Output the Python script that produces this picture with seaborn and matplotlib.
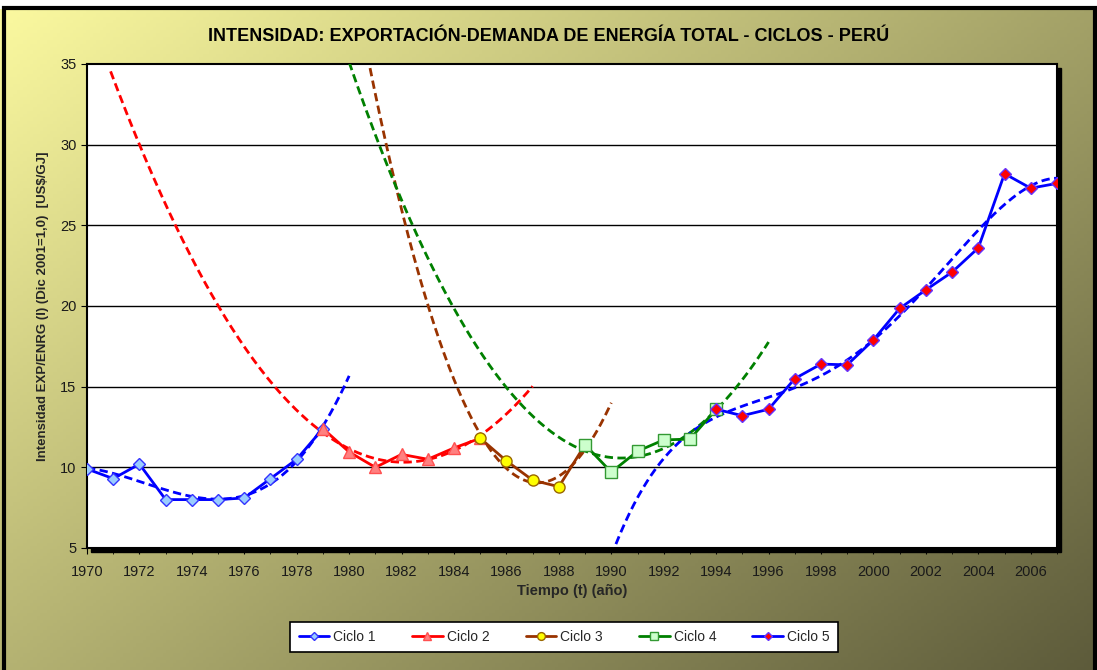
import numpy as np
import pandas as pd
import matplotlib
matplotlib.use("Agg")
import matplotlib.pyplot as plt
import seaborn as sns
from matplotlib.patches import Rectangle

# datos
anios1 = [1970, 1971, 1972, 1973, 1974, 1975, 1976, 1977, 1978, 1979]
ciclo1 = [9.9, 9.3, 10.2, 8.0, 8.0, 8.0, 8.1, 9.3, 10.5, 12.4]
anios2 = [1979, 1980, 1981, 1982, 1983, 1984, 1985]
ciclo2 = [12.4, 10.95, 10.0, 10.8, 10.5, 11.2, 11.8]
anios3 = [1985, 1986, 1987, 1988, 1989]
ciclo3 = [11.8, 10.4, 9.2, 8.8, 11.4]
anios4 = [1989, 1990, 1991, 1992, 1993, 1994]
ciclo4 = [11.4, 9.7, 11.0, 11.7, 11.75, 13.6]
anios5 = [1994, 1995, 1996, 1997, 1998, 1999, 2000, 2001, 2002, 2003, 2004, 2005, 2006, 2007]
ciclo5 = [13.6, 13.2, 13.6, 15.5, 16.4, 16.35, 17.9, 19.85, 21.0, 22.1, 23.6, 28.2, 27.3, 27.6]

# rango de las lineas de tendencia (hacia atras / adelante)
rango_tend = [(1970, 1980), (1970.9, 1987), (1980.7, 1990), (1980, 1996), (1990, 2007)]
grado_tend = [3, 2, 2, 2, 4]

series = [
    ("Ciclo 1", anios1, ciclo1, "#0000FF", "D", "#99CCFF", "#3333FF", 6),
    ("Ciclo 2", anios2, ciclo2, "#FF0000", "^", "#FF8080", "#FF5050", 8),
    ("Ciclo 3", anios3, ciclo3, "#993300", "o", "#FFFF00", "#996600", 8),
    ("Ciclo 4", anios4, ciclo4, "#008000", "s", "#CCFFCC", "#339933", 9),
    ("Ciclo 5", anios5, ciclo5, "#0000FF", "D", "#FF0000", "#6633FF", 6),
]

sns.set_style("white")
plt.rcParams['font.family'] = ['Liberation Sans', 'DejaVu Sans']

fig = plt.figure(figsize=(10.97, 6.70), dpi=100)

# fondo degradado
bg = fig.add_axes([0, 0, 1, 1], zorder=-10)
h, w = 200, 330
yy, xx = np.mgrid[0:h, 0:w]
t = (xx / w * 0.55 + yy / h * 0.45)
c0 = np.array([252, 250, 160]) / 255
c1 = np.array([92, 90, 58]) / 255
img = c0[None, None, :] * (1 - t[..., None]) + c1[None, None, :] * t[..., None]
bg.imshow(img, aspect="auto", extent=[0, 1, 0, 1], origin="upper")
bg.set_xlim(0, 1)
bg.set_ylim(0, 1)
bg.axis("off")
# franja blanca superior y borde negro
bg.add_patch(Rectangle((0, 0.988), 1, 0.02, color="white", zorder=2))
bg.add_patch(Rectangle((0.004, -0.01), 0.994, 0.998, fill=False, edgecolor="black", lw=3, zorder=3))

ax = fig.add_axes([0.0793, 0.1821, 0.8842, 0.7224])
# sombra del area de trazado
bg.add_patch(Rectangle((0.0793 + 0.004, 0.1821 - 0.006), 0.8842, 0.7224, color="black", zorder=4))
ax.set_facecolor("white")

for i, (nombre, xs, ys, col, mk, mfc, mec, ms) in enumerate(series):
    a, b = rango_tend[i]
    coef = np.polyfit(np.array(xs) - xs[0], ys, grado_tend[i])
    xt = np.linspace(a, b, 300)
    yt = np.polyval(coef, xt - xs[0])
    sns.lineplot(x=xt, y=yt, ax=ax, color=col, lw=2, linestyle=(0, (3, 1.6)), zorder=3)
    df = pd.DataFrame({"anio": xs, "valor": ys})
    sns.lineplot(data=df, x="anio", y="valor", ax=ax, color=col, lw=2, marker=mk,
                 markerfacecolor=mfc, markeredgecolor=mec, markersize=ms, markeredgewidth=1,
                 label=nombre, zorder=4)

ax.set_xlim(1970, 2007)
ax.set_ylim(5, 35)
ax.set_yticks(range(5, 36, 5))
ax.set_xticks(range(1970, 2007, 2))
ax.set_xticks(range(1970, 2008), minor=True)
for yv in range(10, 35, 5):
    ax.axhline(yv, color="black", lw=1, zorder=1)
ax.tick_params(axis="both", which="both", direction="out", length=4, color="black",
               bottom=True, left=True, labelsize=10.5, labelcolor="#1a1a1a")
ax.tick_params(axis="x", which="major", pad=8)
for s in ax.spines.values():
    s.set_color("black")
    s.set_linewidth(1.5)

ax.set_xlabel("Tiempo (t) (año)", fontsize=10.5, fontweight="bold", labelpad=4)
ax.set_ylabel("Intensidad EXP/ENRG (I) (Dic 2001=1,0)  [US$/GJ]", fontsize=9.5, fontweight="bold",
              labelpad=8)
fig.text(0.5, 0.945, "INTENSIDAD: EXPORTACIÓN-DEMANDA DE ENERGÍA TOTAL - CICLOS - PERÚ",
         ha="center", va="center", fontsize=13, fontweight="bold", color="black")

leg = ax.legend(loc="center", bbox_to_anchor=(0.492, -0.184), ncol=5, frameon=True, fancybox=False,
                fontsize=10, handlelength=2.2, columnspacing=2.6, borderpad=0.6, handletextpad=0.3,
                markerscale=0.7)
leg.get_frame().set_edgecolor("black")
leg.get_frame().set_linewidth(1.2)
leg.get_frame().set_facecolor("white")
leg.get_frame().set_alpha(1)

fig.savefig("out.png", dpi=100)
